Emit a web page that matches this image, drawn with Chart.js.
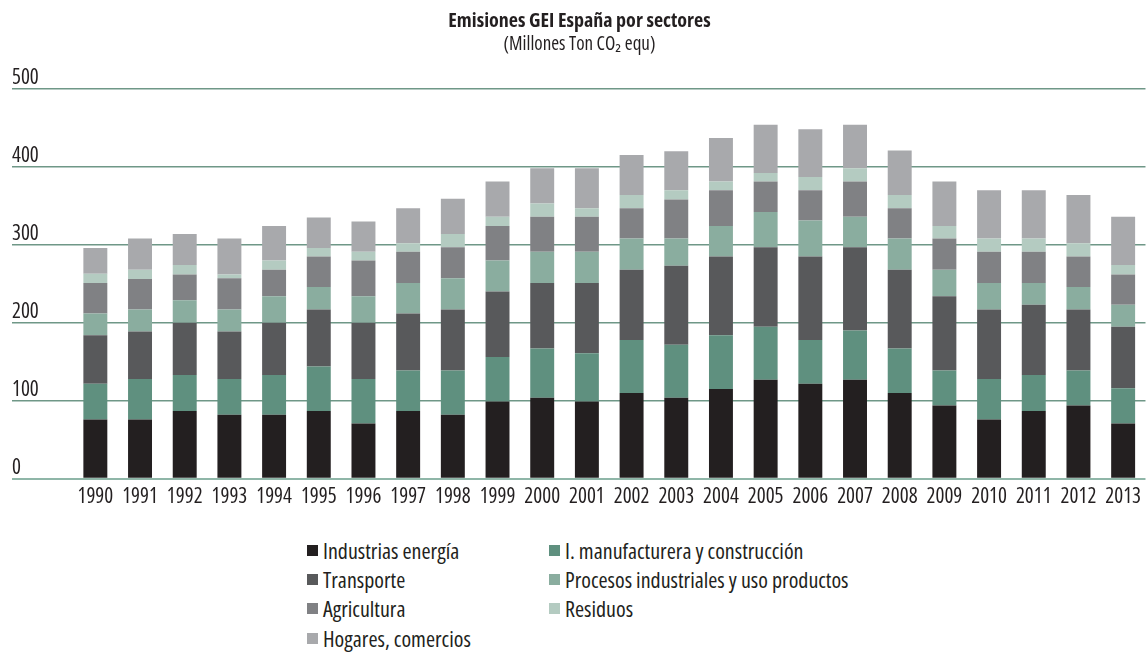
<!DOCTYPE html>
<html>
<head>
<meta charset="utf-8">
<script src="https://cdn.jsdelivr.net/npm/chart.js@4.4.1/dist/chart.umd.min.js"></script>
<style>
  html, body { margin: 0; padding: 0; background: #ffffff; }
  #wrap { position: relative; width: 1147px; height: 652px; overflow: hidden; }
  #chartBox { position: absolute; left: 0; top: 0; width: 1147px; height: 520px; }
  #legend { position: absolute; left: 0; top: 535px; width: 1147px; height: 117px; }
  .lg-item { position: absolute; display: flex; align-items: center; white-space: nowrap;
    font-family: "Open Sans", sans-serif; font-stretch: 75%;
    font-size: 22px; color: #231f20; line-height: 26px; }
  .lg-box { width: 11px; height: 11px; margin-right: 5px; flex: none; }
</style>
</head>
<body>
<div id="wrap">
  <div id="chartBox"><canvas id="c"></canvas></div>
  <div id="legend"></div>
</div>
<script>
// ---- Data (Millones Ton CO2 equ) ----
const years = ['1990','1991','1992','1993','1994','1995','1996','1997','1998','1999','2000','2001',
               '2002','2003','2004','2005','2006','2007','2008','2009','2010','2011','2012','2013'];

const seriesNames = ['Industrias energía', 'I. manufacturera y construcción', 'Transporte',
  'Procesos industriales y uso productos', 'Agricultura', 'Residuos', 'Hogares, comercios'];

const industriasEnergia = [76,76,87,82,82,87,71,87,82,99,104,99,110,104,115,127,122,127,110,94,76,87,94,71];
const manufacturera     = [46,52,46,46,51,57,57,52,57,57,63,62,68,68,69,68,56,63,57,45,52,46,45,45];
const transporte        = [62,61,67,61,67,73,72,73,78,84,84,90,90,101,101,102,107,107,101,95,89,90,78,79];
const procesos          = [28,28,29,28,34,29,34,39,40,40,40,40,40,35,39,45,46,39,40,34,34,28,29,28];
const agricultura       = [39,39,33,40,34,39,46,40,40,44,45,45,39,50,46,39,39,45,39,40,40,40,39,39];
const residuos          = [12,12,12,5,12,11,11,11,17,12,17,11,17,12,11,11,17,17,17,16,17,17,17,12];
const hogares           = [33,40,40,46,44,39,39,45,45,45,45,51,51,50,56,62,61,56,57,57,62,62,62,62];

const yTickValues = [0,100,200,300,400,500];

const titleText = 'Emisiones GEI España por sectores';
const subtitleText = '(Millones Ton CO\u2082 equ)';

// ---- Styles ----
const seriesColors = ['#231f20', '#5f907f', '#58595b', '#8aad9f', '#808184', '#b4cbc1', '#a8a9ac'];
const FONT = '"Open Sans", sans-serif';
const TEXT = '#231f20';

const seriesData = [industriasEnergia, manufacturera, transporte, procesos, agricultura, residuos, hogares];

const datasets = seriesData.map((d, i) => ({
  label: seriesNames[i],
  data: d,
  backgroundColor: seriesColors[i],
  borderWidth: 0,
  categoryPercentage: 1.0,
  barPercentage: 0.536
}));

const chart = new Chart(document.getElementById('c'), {
  type: 'bar',
  data: { labels: years, datasets },
  options: {
    responsive: true,
    maintainAspectRatio: false,
    animation: false,
    layout: { padding: { left: 12, right: 0, top: 0, bottom: 4 } },
    plugins: {
      legend: { display: false },
      tooltip: { enabled: false },
      title: {
        display: true, text: titleText, color: TEXT,
        font: { family: FONT, size: 20, weight: 'bold condensed' },
        padding: { top: 9, bottom: 0 }
      },
      subtitle: {
        display: true, text: subtitleText, color: TEXT,
        font: { family: FONT, size: 19, weight: 'condensed' },
        padding: { top: 0, bottom: 33 }
      }
    },
    scales: {
      x: {
        stacked: true,
        grid: { display: false, drawTicks: false },
        border: { display: false },
        ticks: { color: TEXT, font: { family: FONT, size: 21, weight: 'condensed' }, padding: 6, maxRotation: 0, autoSkip: false }
      },
      y: {
        stacked: true,
        min: 0, max: 500,
        afterBuildTicks: (s) => { s.ticks = yTickValues.map(v => ({ value: v })); },
        afterFit: (s) => { s.width = 61; },
        border: { display: false },
        grid: {
          drawTicks: true,
          tickLength: 61,
          color: (ctx) => ctx.tick && ctx.tick.value === 0 ? '#8fb6a8' : '#6f9787',
          lineWidth: (ctx) => ctx.tick && ctx.tick.value === 0 ? 2 : 1.5
        },
        ticks: {
          color: TEXT,
          font: { family: FONT, size: 21, weight: 'condensed' },
          crossAlign: 'far',
          padding: -40,
          labelOffset: -11
        }
      }
    }
  }
});

// ---- HTML legend, built from the chart's datasets ----
const legendEl = document.getElementById('legend');
const colLeft = [307, 549];
const rowTop = [2, 31, 60, 90];
chart.data.datasets.forEach((ds, i) => {
  const item = document.createElement('div');
  item.className = 'lg-item';
  item.style.left = colLeft[i % 2] + 'px';
  item.style.top = rowTop[Math.floor(i / 2)] + 'px';
  const box = document.createElement('span');
  box.className = 'lg-box';
  box.style.background = ds.backgroundColor;
  const txt = document.createElement('span');
  txt.textContent = ds.label;
  item.appendChild(box);
  item.appendChild(txt);
  legendEl.appendChild(item);
});
</script>
</body>
</html>
